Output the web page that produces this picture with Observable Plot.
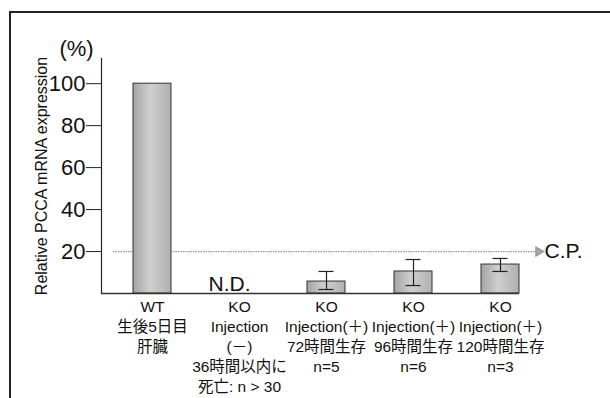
<!DOCTYPE html>
<html>
<head>
<meta charset="utf-8">
<script src="https://cdn.jsdelivr.net/npm/d3@7"></script>
<script src="https://cdn.jsdelivr.net/npm/@observablehq/plot@0.6"></script>
<style>
  html, body { margin: 0; padding: 0; background: #fff; }
  #wrap { position: relative; width: 610px; height: 398px; overflow: hidden; }
  #frame { position: absolute; left: 9px; top: 11px; width: 620px; height: 400px;
           border-top: 2px solid #222; border-left: 2px solid #222; }
  #chart { position: absolute; left: 0; top: 0; }
</style>
</head>
<body>
<div id="wrap"><div id="frame"></div><div id="chart"></div></div>
<script>
const categories = ["WT", "KO_none", "KO_72h", "KO_96h", "KO_120h"];
const tickLabels = [
  "WT\n生後5日目\n肝臓",
  "KO\nInjection\n(－)\n36時間以内に\n死亡: n > 30",
  "KO\nInjection(＋)\n72時間生存\nn=5",
  "KO\nInjection(＋)\n96時間生存\nn=6",
  "KO\nInjection(＋)\n120時間生存\nn=3"
];
const values = [100, null, 5.7, 10.5, 13.8];
const errLow = [null, null, 1.9, 3.8, 10.5];
const errHigh = [null, null, 10.5, 16.2, 16.7];
const notDetectedLabel = "N.D.";
const yTicks = [20, 40, 60, 80, 100];
const cpValue = 20;
const cpLabel = "C.P.";
const yTitle = "Relative PCCA mRNA expression";
const yUnit = "(%)";

const rows = categories.map((c, i) => ({cat: c, value: values[i], lo: errLow[i], hi: errHigh[i]}));
const barRows = rows.filter(d => d.value != null);
const errRows = rows.filter(d => d.lo != null);
const ndRows = rows.filter(d => d.value == null);

const font = "'Liberation Sans', Arial, 'Noto Sans CJK JP', sans-serif";

const chart = Plot.plot({
  width: 610,
  height: 398,
  marginLeft: 101,
  marginRight: 60,
  marginTop: 58,
  marginBottom: 105,
  style: {fontFamily: font, background: "transparent", color: "#111"},
  x: {domain: categories, paddingInner: 0.565, paddingOuter: 0.355},
  y: {domain: [0, 112]},
  marks: [
    Plot.ruleY([cpValue], {stroke: "#9a9a9a", strokeWidth: 1.3, strokeDasharray: "1.5,1", insetLeft: 12, insetRight: 14}),
    Plot.dot([cpValue], {y: d => d, frameAnchor: "right", symbol: "triangle", rotate: 90, r: 3.2, dx: -12, fill: "#aaa", stroke: "#999"}),
    Plot.text([cpLabel], {y: () => cpValue, frameAnchor: "right", textAnchor: "start", lineAnchor: "middle", dx: -6, fontSize: 21, fill: "#111"}),
    Plot.barY(barRows, {x: "cat", y: "value", fill: "url(#barGrad)", stroke: "#333", strokeWidth: 1}),
    Plot.ruleX(errRows, {x: "cat", y1: "lo", y2: "hi", stroke: "#222", strokeWidth: 1.2}),
    Plot.tickY(errRows, {x: "cat", y: "lo", stroke: "#222", strokeWidth: 1.2, insetLeft: 11.5, insetRight: 11.5}),
    Plot.tickY(errRows, {x: "cat", y: "hi", stroke: "#222", strokeWidth: 1.2, insetLeft: 11.5, insetRight: 11.5}),
    Plot.text(ndRows, {x: "cat", y: () => 0, text: () => notDetectedLabel, lineAnchor: "bottom", dy: -3, dx: -10, fontSize: 21, fill: "#111"}),
    Plot.ruleY([0], {x1: () => categories[0], x2: () => categories[categories.length - 1], insetLeft: -31, stroke: "#333", strokeWidth: 1.3}),
    Plot.frame({anchor: "left", stroke: "#222", strokeWidth: 1.2}),
    Plot.axisY({ticks: yTicks, tickSize: 15, tickPadding: 1, fontSize: 22, label: null, stroke: "#222", fill: "#111"}),
    Plot.axisX({tickSize: 0, tickPadding: 4, fontSize: 15.5, lineHeight: 1.29, label: null, fill: "#111",
                tickFormat: d => tickLabels[categories.indexOf(d)]}),
    Plot.text([yTitle], {frameAnchor: "left", rotate: -90, textAnchor: "middle", lineAnchor: "middle", dx: -60, fontSize: 16, fill: "#111"}),
    Plot.text([yUnit], {frameAnchor: "top-left", textAnchor: "middle", lineAnchor: "middle", dx: -25, dy: -10, fontSize: 22, fill: "#111"})
  ]
});

const svg = d3.select(chart);
const defs = svg.insert("defs", ":first-child");
const g = defs.append("linearGradient").attr("id", "barGrad").attr("x1", "0").attr("x2", "1").attr("y1", "0").attr("y2", "0");
g.append("stop").attr("offset", "0%").attr("stop-color", "#a4a4a4");
g.append("stop").attr("offset", "45%").attr("stop-color", "#cfcfcf");
g.append("stop").attr("offset", "100%").attr("stop-color", "#b0b0b0");

document.getElementById("chart").appendChild(chart);
</script>
</body>
</html>
